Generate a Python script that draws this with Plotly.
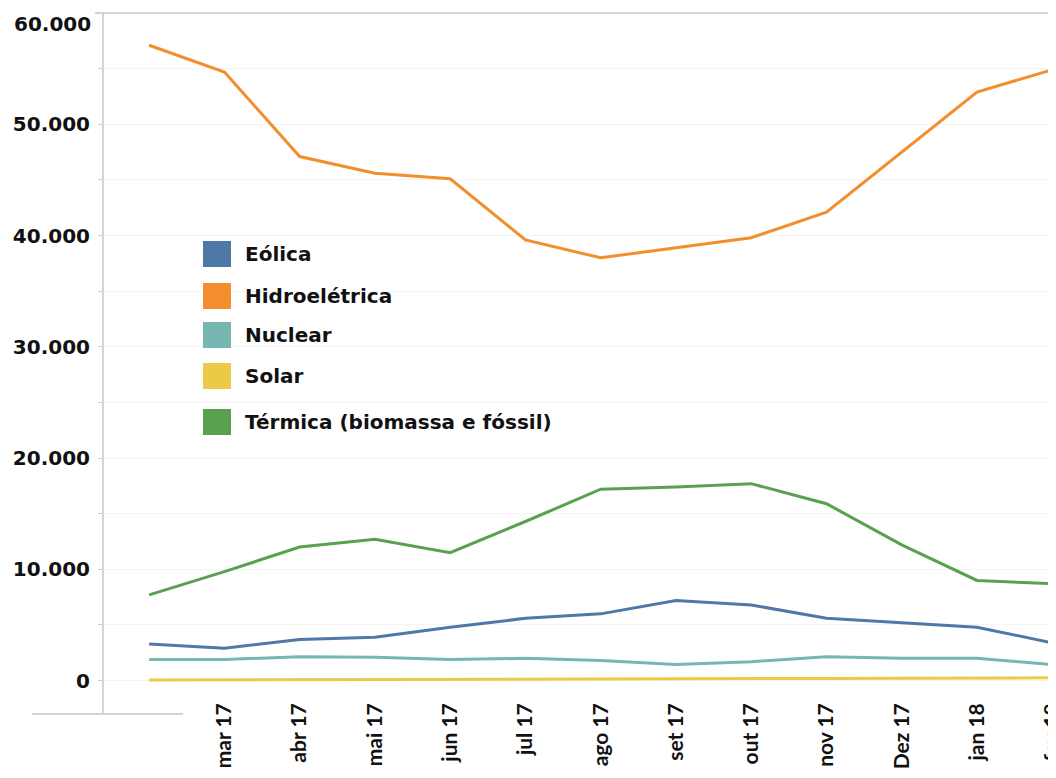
import plotly.graph_objects as go

# ---- data ----
months = ["fev 17", "mar 17", "abr 17", "mai 17", "jun 17", "jul 17", "ago 17",
          "set 17", "out 17", "nov 17", "Dez 17", "jan 18", "fev 18"]
series_names = ["Eólica", "Hidroelétrica", "Nuclear", "Solar", "Térmica (biomassa e fóssil)"]
eolica = [3300, 2900, 3700, 3900, 4800, 5600, 6000, 7200, 6800, 5600, 5200, 4800, 3400]
hidro = [57100, 54700, 47100, 45600, 45100, 39600, 38000, 38900, 39800, 42100, 47500, 52900, 54900]
nuclear = [1900, 1900, 2150, 2100, 1900, 2000, 1800, 1450, 1700, 2150, 2000, 2000, 1450]
solar = [50, 60, 70, 80, 90, 100, 120, 150, 180, 200, 220, 240, 250]
termica = [7700, 9800, 12000, 12700, 11500, 14300, 17200, 17400, 17700, 15900, 12200, 9000, 8700]
y_ticks = [0, 10000, 20000, 30000, 40000, 50000]
y_top_label = 60000

colors = ["#4E79A7", "#F28E2B", "#76B7B2", "#EDC948", "#59A14F"]
values = [eolica, hidro, nuclear, solar, termica]

# page has an 8px body margin; figure sized so it ends at the window edge
OFF = 8
W, H = 1056 - OFF, 778 - OFF
L, R, T, B = 104 - OFF, 0, 13 - OFF, 64
FONT = "Lato"
WIDE = "DejaVu Sans"

def fmt(v):
    return "{:,}".format(v).replace(",", ".")

fig = go.Figure()
for name, vals, col in zip(series_names, values, colors):
    fig.add_trace(go.Scatter(x=months, y=vals, name=name, mode="lines",
                             line=dict(color=col, width=3), showlegend=False))

# page-pixel -> paper helpers (layout only)
pw, ph = W - L - R, H - T - B
def px_x(x):
    return (x - OFF - L) / pw
def px_y(y):
    return (H - B - (y - OFF)) / ph

shapes = []
annotations = []
# manual legend with square swatches
row_centers = [254, 296, 335, 376, 422]
for name, col, yc in zip(series_names, colors, row_centers):
    shapes.append(dict(type="rect", xref="paper", yref="paper",
                       x0=px_x(203), x1=px_x(231), y0=px_y(yc + 13), y1=px_y(yc - 13),
                       fillcolor=col, line=dict(width=0), layer="above"))
    annotations.append(dict(xref="paper", yref="paper", x=px_x(243), y=px_y(yc),
                            xanchor="left", yanchor="middle", showarrow=False,
                            text="<b>%s</b>" % name,
                            font=dict(family=WIDE, size=20, color="#111111")))

# top axis label (sits slightly below the top edge in the reference)
annotations.append(dict(xref="paper", yref="paper", x=px_x(93), y=px_y(24),
                        xanchor="right", yanchor="middle", showarrow=False,
                        text="<b>%s</b>" % fmt(y_top_label),
                        font=dict(family=WIDE, size=20, color="#111111")))

# frame lines
shapes.append(dict(type="line", xref="paper", yref="paper", x0=px_x(95), x1=1.02,
                   y0=1, y1=1, line=dict(color="#d4d4d4", width=2)))
shapes.append(dict(type="line", xref="paper", yref="paper", x0=px_x(32), x1=px_x(183),
                   y0=0, y1=0, line=dict(color="#d4d4d4", width=2)))

fig.update_layout(
    width=W, height=H,
    margin=dict(l=L, r=R, t=T, b=B, autoexpand=False),
    paper_bgcolor="white", plot_bgcolor="white",
    shapes=shapes, annotations=annotations,
    font=dict(family=FONT, color="#111111"),
)
fig.update_xaxes(
    type="category", range=[-0.6, 12.05], automargin=False,
    tickvals=months[1:], ticktext=["<b>%s</b>" % m for m in months[1:]],
    tickangle=-90, tickfont=dict(family=FONT, size=21, color="#111111"),
    showgrid=False, showline=False, zeroline=False, ticks="",
    ticklabelstandoff=-16,
)
fig.update_yaxes(
    range=[-3000, 60000], tickvals=y_ticks, automargin=False,
    ticktext=["<b>%s</b>" % fmt(v) for v in y_ticks],
    tickfont=dict(family=WIDE, size=20, color="#111111"),
    showgrid=True, gridcolor="#f3f3f3", gridwidth=1,
    minor=dict(dtick=5000, tick0=0, showgrid=True, gridcolor="#f5f5f5",
               ticks="outside", ticklen=4, tickcolor="#d0d0d0"),
    showline=True, linecolor="#d4d4d4", linewidth=2,
    zeroline=False, ticks="", ticklabelstandoff=8,
)

fig.write_html("out.html")
